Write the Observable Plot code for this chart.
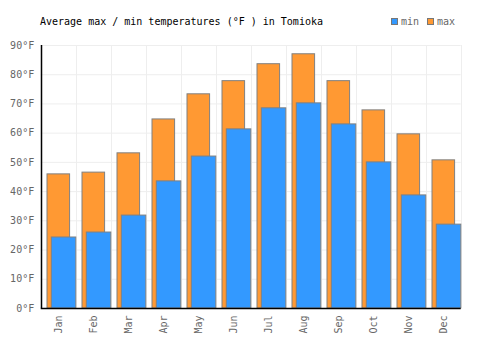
<!DOCTYPE html>
<html><head><meta charset="utf-8">
<script src="https://cdn.jsdelivr.net/npm/d3@7"></script>
<script src="https://cdn.jsdelivr.net/npm/@observablehq/plot@0.6"></script>
<style>
body{margin:0;background:#fff;font-family:"DejaVu Sans Mono",monospace;}
#wrap{position:relative;width:500px;height:350px;}
#title{position:absolute;left:40px;top:16px;font-size:10px;color:#000;white-space:pre;}
#legend{position:absolute;left:391px;top:16px;font-size:10px;color:#666;display:flex;align-items:center;}
.sw{display:inline-block;width:5px;height:5px;border:1px solid #777;margin-right:3px;}
#chart{position:absolute;left:0;top:0;}
</style></head>
<body><div id="wrap">
<div id="chart"></div>
<div id="title">Average max / min temperatures (°F ) in Tomioka</div>
<div id="legend"><span class="sw" style="background:#3399ff"></span><span>min</span><span class="sw" style="background:#ff9933;margin-left:8px"></span><span>max</span></div>
</div>
<script>
const months = ["Jan","Feb","Mar","Apr","May","Jun","Jul","Aug","Sep","Oct","Nov","Dec"];
const maxTemps = [45.9, 46.5, 53.1, 64.7, 73.3, 77.8, 83.6, 87.0, 77.8, 67.8, 59.6, 50.7];
const minTemps = [24.3, 26.0, 31.8, 43.5, 52.0, 61.3, 68.5, 70.2, 63.0, 50.0, 38.7, 28.7];
const yTicks = [0,10,20,30,40,50,60,70,80,90];

const data = months.map((m,i)=>({month:m, max:maxTemps[i], min:minTemps[i]}));

const chart = Plot.plot({
  width: 500, height: 350,
  marginLeft: 40.7, marginRight: 39.3, marginTop: 45, marginBottom: 42,
  style: {fontFamily: "DejaVu Sans Mono, monospace", fontSize: "10px", color: "#666", background: "transparent"},
  x: {type: "band", domain: months, padding: 0, label: null, tickSize: 0, tickPadding: 7, tickRotate: -90},
  y: {domain: [0, 90], ticks: yTicks, tickFormat: d => d + "°F", label: null, tickSize: 0, tickPadding: 7},
  marks: [
    Plot.ruleY(yTicks, {stroke: "#eee", strokeWidth: 1}),
    Plot.ruleX(months, {x: d => d, dx: 17.5, stroke: "#eee", strokeWidth: 1}),
    Plot.barY(data, {x: "month", y: "max", fill: "#ff9933", stroke: "#808080", strokeWidth: 1, insetLeft: 6, insetRight: 6.4}),
    Plot.barY(data, {x: "month", y: "min", fill: "#3399ff", stroke: "#808080", strokeWidth: 1, insetLeft: 10.3, insetRight: 0.2}),
    Plot.ruleY([0], {stroke: "#000", strokeWidth: 1.5}),
    Plot.ruleX([0], {x: () => months[0], dx: -17.5, y1: 0, y2: 90, stroke: "#000", strokeWidth: 1.5})
  ]
});
document.getElementById("chart").appendChild(chart);
</script>
</body></html>
